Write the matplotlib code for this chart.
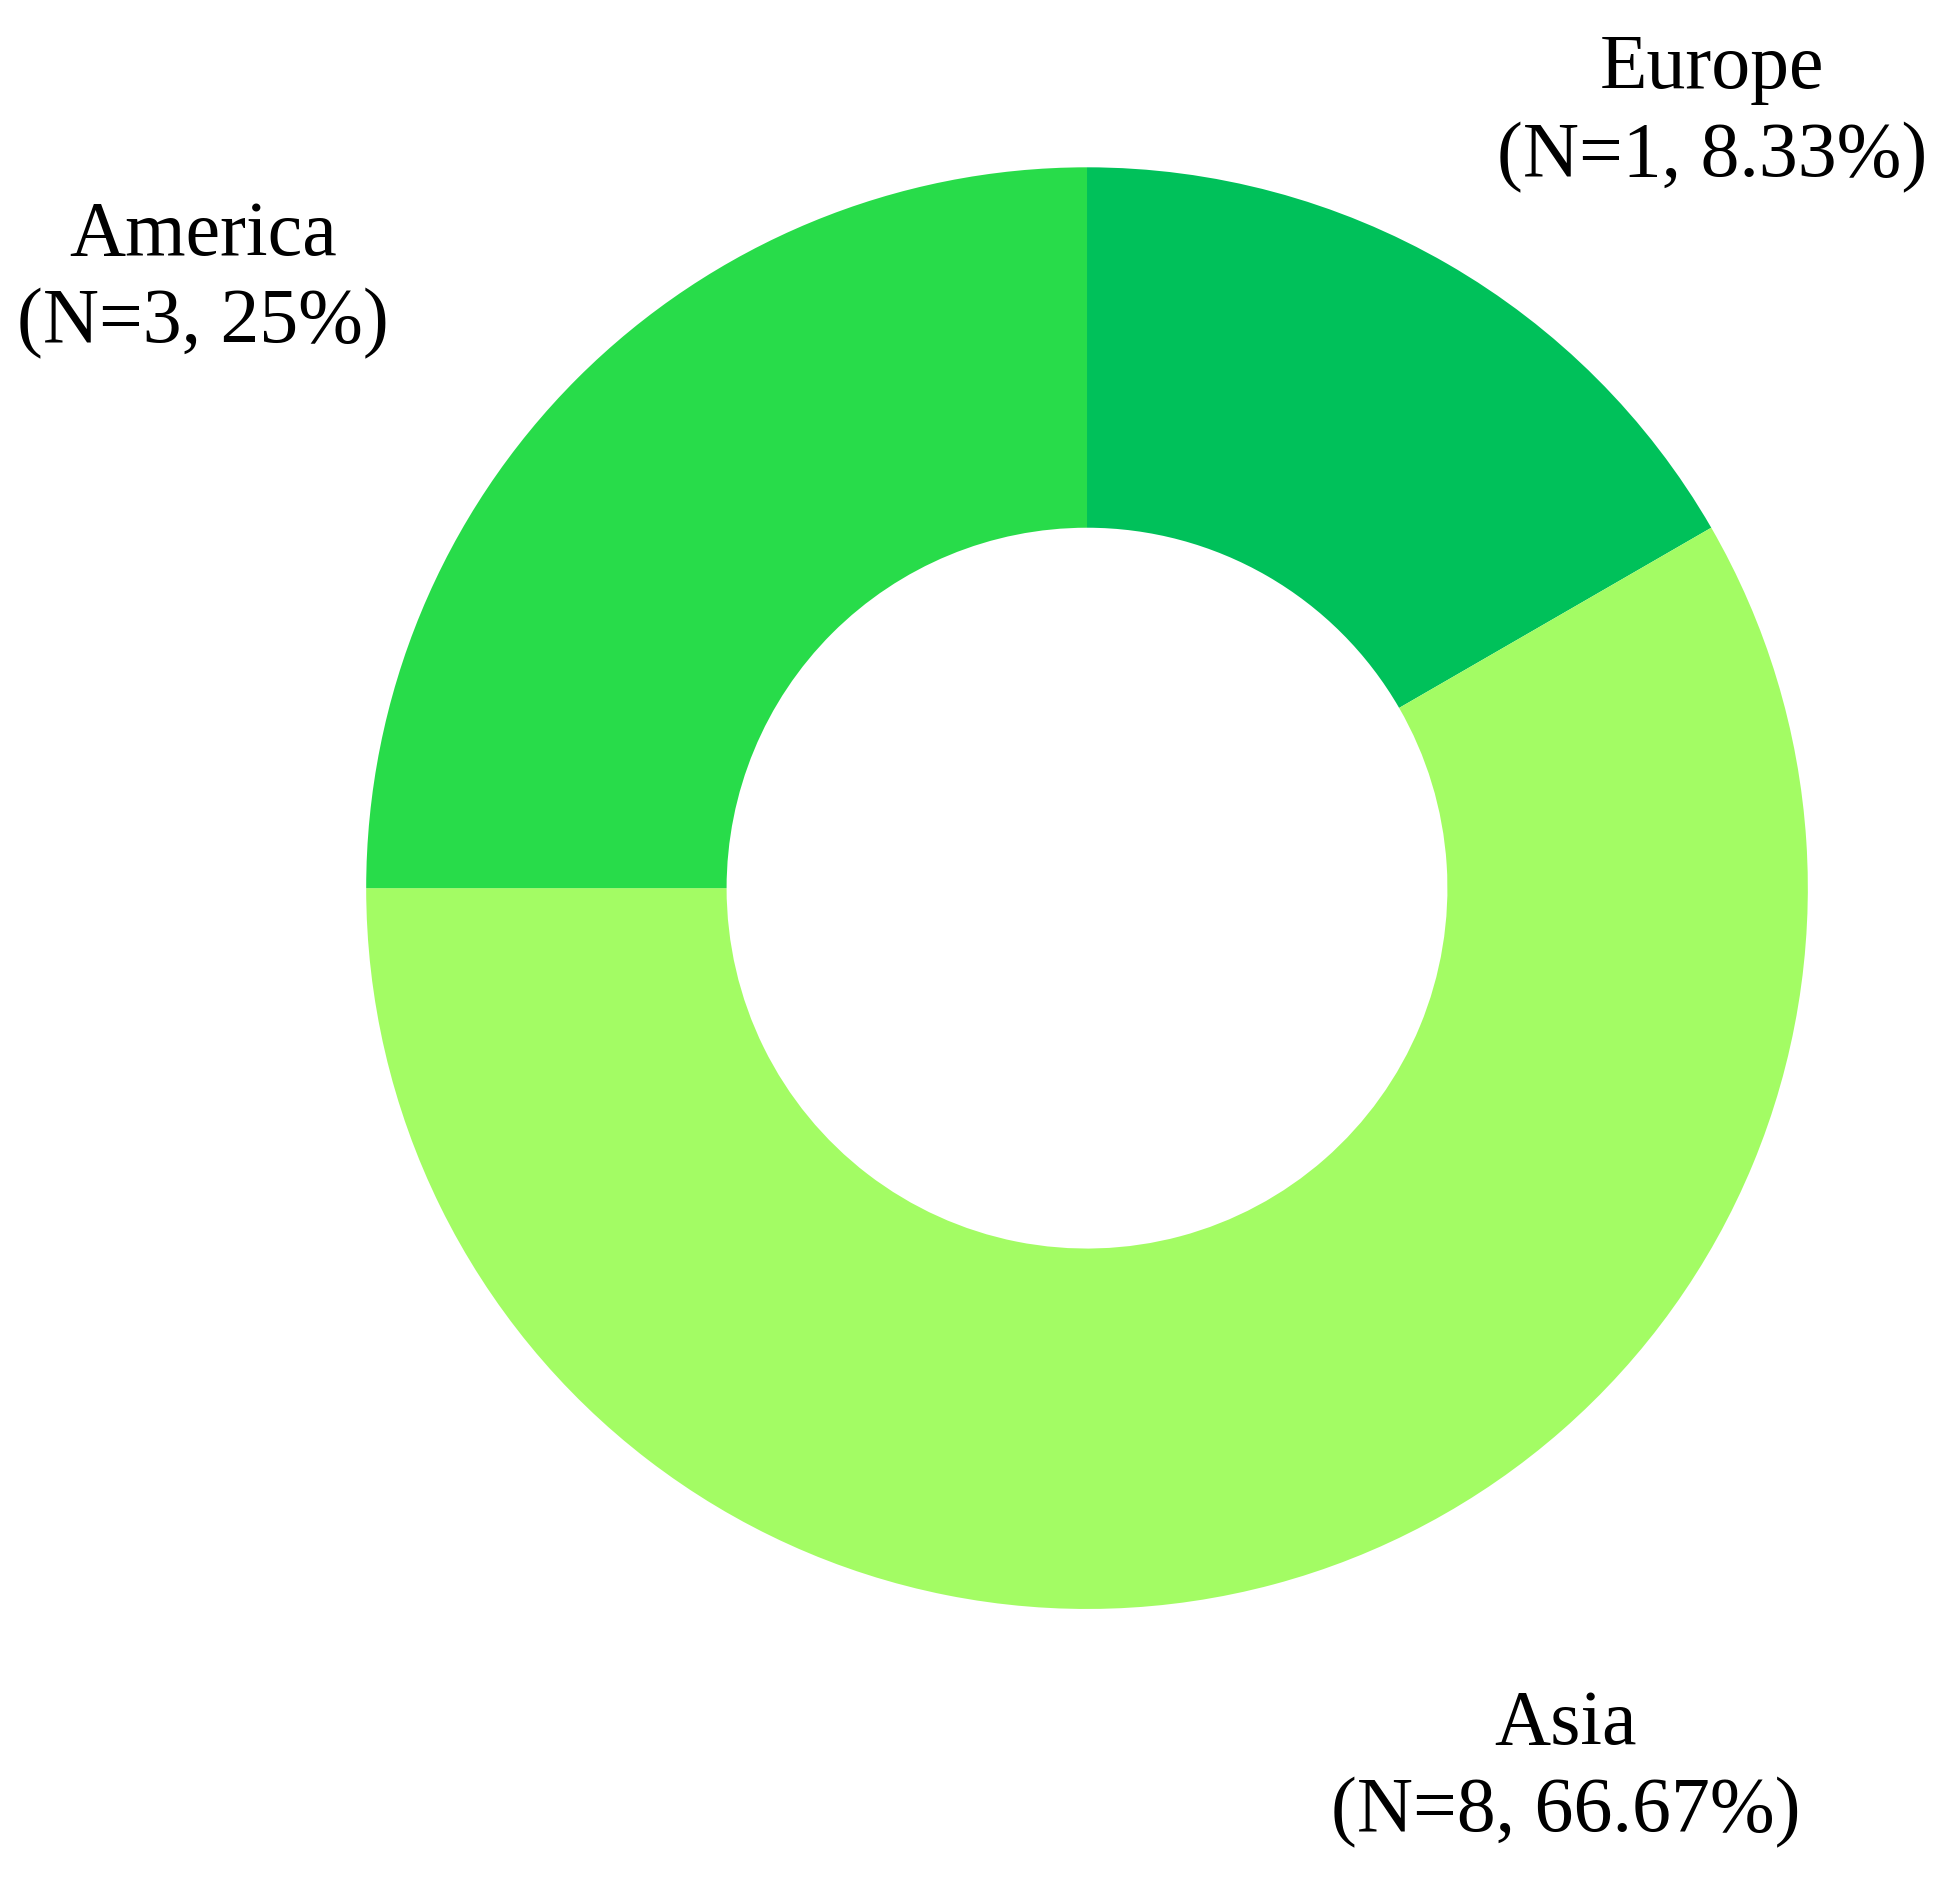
import matplotlib
matplotlib.use("Agg")
import matplotlib.pyplot as plt

# Regions, as listed in the labels
regions = ["Europe", "Asia", "America"]
counts = [1, 8, 3]
percents = ["8.33%", "66.67%", "25%"]
# Wedge sizes as drawn in the picture (twelfths of the ring)
drawn_share = [2, 7, 3]
colors = ["#00C15A", "#A3FC64", "#28DC4A"]

# Label placement in figure fraction (centre of the two-line label)
label_pos = [(0.877, 0.940), (0.802, 0.064), (0.104, 0.852)]

plt.rcParams["font.family"] = ["Liberation Serif", "DejaVu Serif"]

fig = plt.figure(figsize=(19.52, 18.9), dpi=100)
ax = fig.add_axes([0, 0, 1, 1])

wedges, _ = ax.pie(
    drawn_share,
    colors=colors,
    startangle=90,
    counterclock=False,
    radius=1.0,
    wedgeprops=dict(width=0.5, edgecolor="none", linewidth=0),
)

# Map the ring to the same place as in the reference
ax.set_xlim(-1.508, 1.200)
ax.set_ylim(-1.388, 1.233)
ax.set_aspect("equal")
ax.axis("off")

for name, n, pct, (x, y) in zip(regions, counts, percents, label_pos):
    fig.text(
        x, y, f"{name}\n(N={n}, {pct})",
        ha="center", va="center", fontsize=56, linespacing=1.3,
        color="black",
    )

fig.savefig("out.png", dpi=100, facecolor="white")
